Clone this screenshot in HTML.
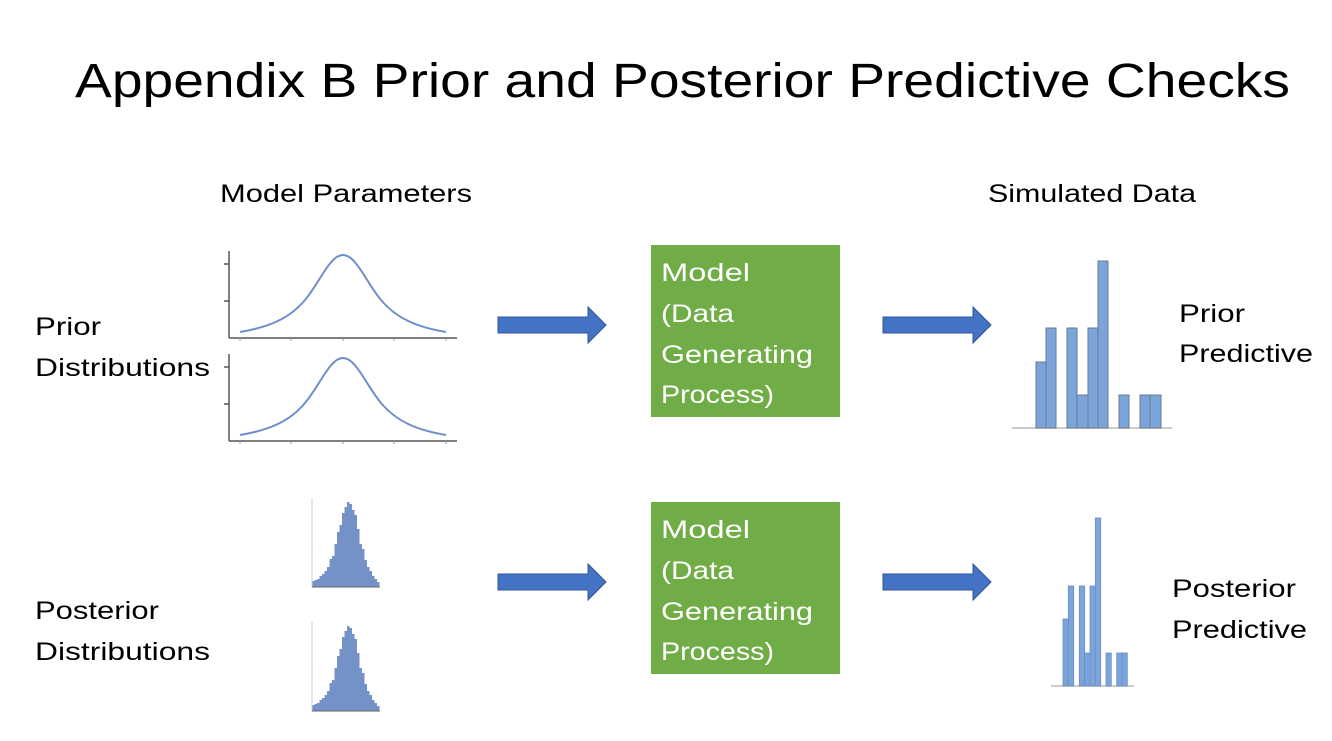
<!DOCTYPE html>
<html><head><meta charset="utf-8"><style>html,body{margin:0;padding:0;background:#fff}svg{display:block}</style></head>
<body>
<svg width="1332" height="741" viewBox="0 0 1332 741" xmlns="http://www.w3.org/2000/svg" font-family="'Liberation Sans', sans-serif">
<rect width="1332" height="741" fill="#fff"/>
<text x="75" y="97" font-size="48" textLength="1215" lengthAdjust="spacingAndGlyphs" fill="#000">Appendix B Prior and Posterior Predictive Checks</text>
<g font-size="25" fill="#000">
<text x="220" y="202" textLength="252" lengthAdjust="spacingAndGlyphs">Model Parameters</text>
<text x="988" y="202" textLength="208" lengthAdjust="spacingAndGlyphs">Simulated Data</text>
<text x="35" y="335" textLength="66" lengthAdjust="spacingAndGlyphs">Prior</text>
<text x="35" y="376" textLength="175" lengthAdjust="spacingAndGlyphs">Distributions</text>
<text x="35" y="619" textLength="124" lengthAdjust="spacingAndGlyphs">Posterior</text>
<text x="35" y="660" textLength="175" lengthAdjust="spacingAndGlyphs">Distributions</text>
<text x="1179" y="322" textLength="66" lengthAdjust="spacingAndGlyphs">Prior</text>
<text x="1179" y="362" textLength="134" lengthAdjust="spacingAndGlyphs">Predictive</text>
<text x="1172" y="597" textLength="124" lengthAdjust="spacingAndGlyphs">Posterior</text>
<text x="1172" y="638" textLength="135" lengthAdjust="spacingAndGlyphs">Predictive</text>
</g>
<g id="curve1">
<g stroke="#555" stroke-width="1.5" fill="none">
<line x1="229" y1="251" x2="229" y2="338"/>
<line x1="229" y1="338" x2="457" y2="338"/>
<line x1="224" y1="264" x2="229" y2="264"/><line x1="224" y1="301" x2="229" y2="301"/>
</g>
<g stroke="#999" stroke-width="1"><line x1="240" y1="338" x2="240" y2="341"/><line x1="291" y1="338" x2="291" y2="341"/><line x1="343" y1="338" x2="343" y2="341"/><line x1="394" y1="338" x2="394" y2="341"/><line x1="446" y1="338" x2="446" y2="341"/></g>
<path d="M240 332 C270 327 290 318 305 300 C320 282 330 255 343 255 C356 255 366 282 381 300 C396 318 416 327 446 332" stroke="#6F8FCB" stroke-width="2" fill="none"/>
</g>
<use href="#curve1" transform="translate(0,103)"/>
<g id="ph">
<path d="M312 587 V581 H314.5 V580 H317 V579 H319.5 V576 H322 V574 H324.5 V571 H327 V567 H329.5 V559 H332 V556 H334.5 V544 H337 V532 H339.5 V525 H342 V513 H344.5 V507 H347 V502 H349.5 V504 H352 V510 H354.5 V515 H357 V529 H359.5 V544 H362 V549 H364.5 V560 H367 V567 H369.5 V571 H372 V576 H374.5 V579 H377 V582 H379.5 V587 Z" fill="#7592C8"/>
<line x1="312" y1="498" x2="312" y2="587" stroke="#ccc" stroke-width="1"/>
<line x1="312" y1="587" x2="380" y2="587" stroke="#666" stroke-width="1"/>
</g>
<use href="#ph" transform="translate(0,124)"/>
<g id="arr" fill="#4472C4" stroke="#2F5597" stroke-width="1">
<path d="M498 317 H588 V307 L606 325 L588 343 V333 H498 Z"/>
</g>
<use href="#arr" transform="translate(385,0)"/>
<use href="#arr" transform="translate(0,257)"/>
<use href="#arr" transform="translate(385,257)"/>
<rect x="651" y="245" width="189" height="172" fill="#70AD47"/>
<rect x="651" y="502" width="189" height="172" fill="#70AD47"/>
<g fill="#fff" font-size="25">
<text x="661" y="281" textLength="89" lengthAdjust="spacingAndGlyphs">Model</text><text x="661" y="322" textLength="73" lengthAdjust="spacingAndGlyphs">(Data</text><text x="661" y="363" textLength="152" lengthAdjust="spacingAndGlyphs">Generating</text><text x="661" y="403" textLength="113" lengthAdjust="spacingAndGlyphs">Process)</text>
<text x="661" y="538" textLength="89" lengthAdjust="spacingAndGlyphs">Model</text><text x="661" y="579" textLength="73" lengthAdjust="spacingAndGlyphs">(Data</text><text x="661" y="620" textLength="152" lengthAdjust="spacingAndGlyphs">Generating</text><text x="661" y="660" textLength="113" lengthAdjust="spacingAndGlyphs">Process)</text>
</g>
<line x1="1012" y1="428" x2="1172" y2="428" stroke="#bbb" stroke-width="1.5"/>
<g fill="#7AA4DA" stroke="#6B7A8F" stroke-width="1">
<rect x="1036" y="362" width="10" height="66"/>
<rect x="1046" y="328" width="10" height="100"/>
<rect x="1067" y="328" width="10" height="100"/>
<rect x="1077" y="395" width="11" height="33"/>
<rect x="1088" y="328" width="10" height="100"/>
<rect x="1098" y="261" width="10" height="167"/>
<rect x="1119" y="395" width="10" height="33"/>
<rect x="1140" y="395" width="10" height="33"/>
<rect x="1150" y="395" width="11" height="33"/>
</g>
<line x1="1051" y1="686" x2="1134" y2="686" stroke="#bbb" stroke-width="1.5"/>
<g fill="#7AA4DA" stroke="#6B8FC0" stroke-width="0.8">
<rect x="1063" y="619" width="5.3" height="67"/>
<rect x="1068.3" y="586" width="5.4" height="100"/>
<rect x="1079.3" y="586" width="5.4" height="100"/>
<rect x="1084.7" y="653" width="5.3" height="33"/>
<rect x="1090" y="586" width="5.3" height="100"/>
<rect x="1095.3" y="518" width="5.4" height="168"/>
<rect x="1106" y="653" width="5.3" height="33"/>
<rect x="1116.7" y="653" width="5.3" height="33"/>
<rect x="1122" y="653" width="5.3" height="33"/>
</g>
</svg>
</body></html>
